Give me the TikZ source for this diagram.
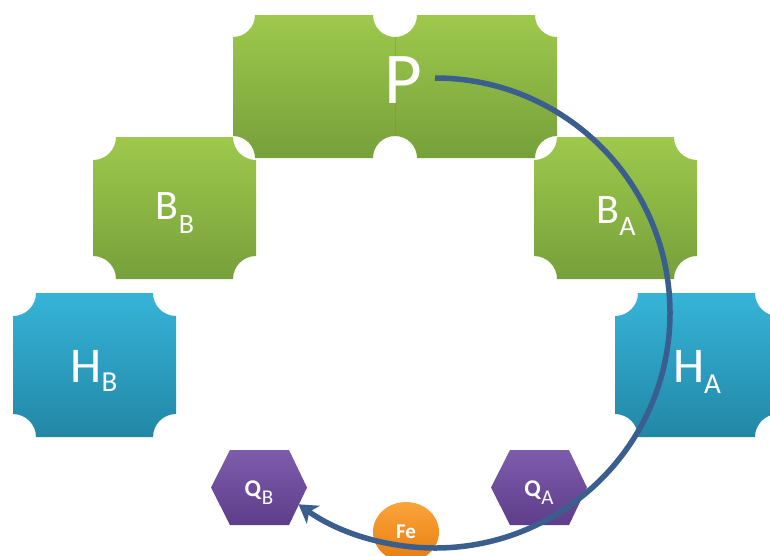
\documentclass[tikz,border=0pt]{standalone}
\usepackage{fontspec}
\setmainfont{Carlito}
\usetikzlibrary{arrows.meta}
\definecolor{gtop}{RGB}{158,201,76}
\definecolor{gbot}{RGB}{118,160,58}
\definecolor{btop}{RGB}{54,180,216}
\definecolor{bbot}{RGB}{34,135,166}
\definecolor{ptop}{RGB}{126,92,172}
\definecolor{pbot}{RGB}{93,62,138}
\definecolor{otop}{RGB}{250,164,60}
\definecolor{obot}{RGB}{232,125,15}
\definecolor{arc}{RGB}{58,95,143}
\newcommand\nbox[5]{(#1+#5,#2) -- (#3-#5,#2) arc[start angle=180,end angle=90,radius=#5] -- (#3,#4-#5) arc[start angle=270,end angle=180,radius=#5] -- (#1+#5,#4) arc[start angle=0,end angle=-90,radius=#5] -- (#1,#2+#5) arc[start angle=90,end angle=0,radius=#5] -- cycle}
\newcommand\sub[2]{\raisebox{-#1pt}{#2}}
\tikzset{
  greenbox/.style={top color=gtop,bottom color=gbot,draw=none},
  bluebox/.style={top color=btop,bottom color=bbot,draw=none},
  hexbox/.style={top color=ptop,bottom color=pbot,draw=none},
  lbl/.style={text=white,anchor=base,inner sep=0pt},
}
\begin{document}
\begin{tikzpicture}[x=1pt,y=-1pt]
\useasboundingbox (0,0) rectangle (770,555);
\clip (0,0) rectangle (770,555);
\fill[white] (0,0) rectangle (770,555);
% P box halves
\shade[greenbox] \nbox{233}{15}{395}{158}{22};
\shade[greenbox] \nbox{395}{15}{557}{158}{22};
\draw[gbot!90!black,opacity=0.35,line width=0.8pt] (395,37) -- (395,136);
% B boxes
\shade[greenbox] \nbox{93}{137}{256}{279}{23};
\shade[greenbox] \nbox{534}{137}{697}{279}{23};
% H boxes
\shade[bluebox] \nbox{13}{293}{176}{437}{23};
\shade[bluebox] \nbox{615}{293}{778}{437}{23};
% hexagons
\shade[hexbox] (211,487.5) -- (230,450) -- (289,450) -- (307,487.5) -- (289,525) -- (230,525) -- cycle;
\shade[hexbox] (491,487.5) -- (510,450) -- (569,450) -- (587,487.5) -- (569,525) -- (510,525) -- cycle;
% Fe
\shade[top color=otop,bottom color=obot] (406,532) ellipse[x radius=33,y radius=30];
% labels
\node[lbl,font=\fontsize{73}{73}\selectfont] (P) at (403,103) {P};
\node[lbl,font=\fontsize{42}{42}\selectfont] (BB) at (175,219) {B\sub{14}{\fontsize{28}{28}\selectfont B}};
\node[lbl,font=\fontsize{42}{42}\selectfont] (BA) at (616,223) {B\sub{12}{\fontsize{28}{28}\selectfont A}};
\node[lbl,font=\fontsize{50}{50}\selectfont] (HB) at (94,382) {H\sub{9}{\fontsize{29}{29}\selectfont B}};
\node[lbl,font=\fontsize{50}{50}\selectfont] (HA) at (697,382) {H\sub{11}{\fontsize{29}{29}\selectfont A}};
\node[lbl,font=\fontsize{24}{24}\selectfont] (QB) at (259,496) {\textbf{Q}\sub{8}{\fontsize{21}{21}\selectfont B}};
\node[lbl,font=\fontsize{24}{24}\selectfont] (QA) at (539,496) {\textbf{Q}\sub{8}{\fontsize{21}{21}\selectfont A}};
\node[lbl,font=\fontsize{21}{21}\selectfont\bfseries] (Fe) at (406,538) {Fe};
% arc arrow
\coordinate (s) at (435,78);
\draw[arc,line width=5.5pt,-{Stealth[length=18pt,width=22pt,inset=5pt]}] (s) arc[start angle=-90,end angle=125.5,radius=235];
\end{tikzpicture}
\end{document}
